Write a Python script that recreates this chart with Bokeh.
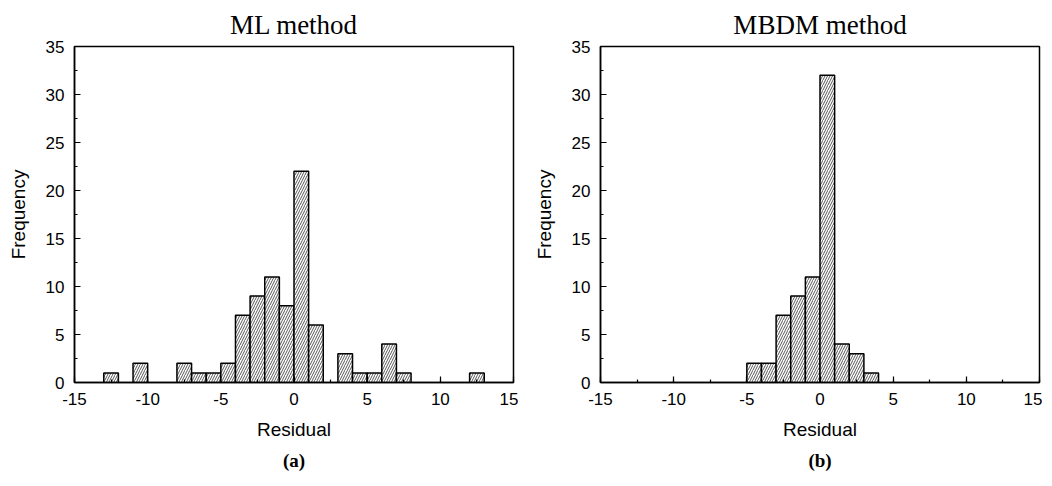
from bokeh.plotting import figure
from bokeh.models import Range1d, SingleIntervalTicker, Title, PrintfTickFormatter
from bokeh.layouts import row
from bokeh.embed import file_html
from bokeh.resources import INLINE

# Histogram data (bin left edges, bin width 1)
bin_starts = list(range(-15, 15))
ml_counts = [0, 0, 1, 0, 2, 0, 0, 2, 1, 1, 2, 7, 9, 11, 8, 22, 6, 0, 3, 1, 1, 4, 1, 0, 0, 0, 0, 1, 0, 0]
mbdm_counts = [0, 0, 0, 0, 0, 0, 0, 0, 0, 0, 2, 2, 7, 9, 11, 32, 4, 3, 1, 0, 0, 0, 0, 0, 0, 0, 0, 0, 0, 0]
titles = ["ML method", "MBDM method"]
captions = ["(a)", "(b)"]
x_label = "Residual"
y_label = "Frequency"


def make_panel(counts, title, caption, width, border_left, border_right):
    p = figure(width=width, height=478, output_backend="svg", toolbar_location=None,
               x_range=Range1d(-15, 15), y_range=Range1d(0, 35),
               min_border_left=border_left, min_border_right=border_right,
               min_border_top=45, min_border_bottom=96)
    t = Title(text=title, align="center", text_font="Liberation Serif",
              text_font_size="27px", text_font_style="normal", text_color="black",
              standoff=14, offset=-28)
    p.add_layout(t, "above")

    lefts = [b for b, c in zip(bin_starts, counts) if c > 0]
    tops = [c for c in counts if c > 0]
    rights = [b + 1 for b in lefts]
    p.quad(left=lefts, right=rights, bottom=0, top=tops,
           fill_color="white", line_color="black", line_width=1.5,
           hatch_pattern="right_diagonal_line", hatch_color="#444444",
           hatch_scale=5, hatch_weight=0.9)

    p.grid.visible = False
    p.outline_line_color = "black"
    p.outline_line_width = 1.5
    p.background_fill_color = "white"
    p.border_fill_color = "white"

    for ax in (p.xaxis[0], p.yaxis[0]):
        ax.ticker = SingleIntervalTicker(interval=5, num_minor_ticks=2)
        ax.formatter = PrintfTickFormatter(format="%d")
        ax.axis_line_color = "black"
        ax.axis_line_width = 1.5
        ax.major_tick_in = 6
        ax.major_tick_out = 0
        ax.minor_tick_in = 3
        ax.minor_tick_out = 0
        ax.major_tick_line_color = "black"
        ax.minor_tick_line_color = "black"
        ax.major_tick_line_width = 1.2
        ax.minor_tick_line_width = 1.2
        ax.major_label_text_font = "Liberation Sans"
        ax.major_label_text_font_size = "17px"
        ax.major_label_text_color = "black"
        ax.axis_label_text_font = "Liberation Sans"
        ax.axis_label_text_font_size = "19px"
        ax.axis_label_text_font_style = "normal"
        ax.axis_label_text_color = "black"

    p.xaxis[0].axis_label = x_label
    p.xaxis[0].major_label_standoff = 10
    p.xaxis[0].axis_label_standoff = 11
    p.yaxis[0].axis_label = y_label
    p.yaxis[0].major_label_standoff = 10
    p.yaxis[0].axis_label_standoff = 14

    cap = Title(text=caption, align="center", text_font="Liberation Serif",
                text_font_size="19px", text_font_style="bold", text_color="black",
                standoff=11, offset=-28)
    p.add_layout(cap, "below")
    return p


p1 = make_panel(ml_counts, titles[0], captions[0], 518, 74, 5)
p2 = make_panel(mbdm_counts, titles[1], captions[1], 524, 82, 3)
layout = row(p1, p2)

open("out.html", "w").write(file_html(layout, INLINE))
